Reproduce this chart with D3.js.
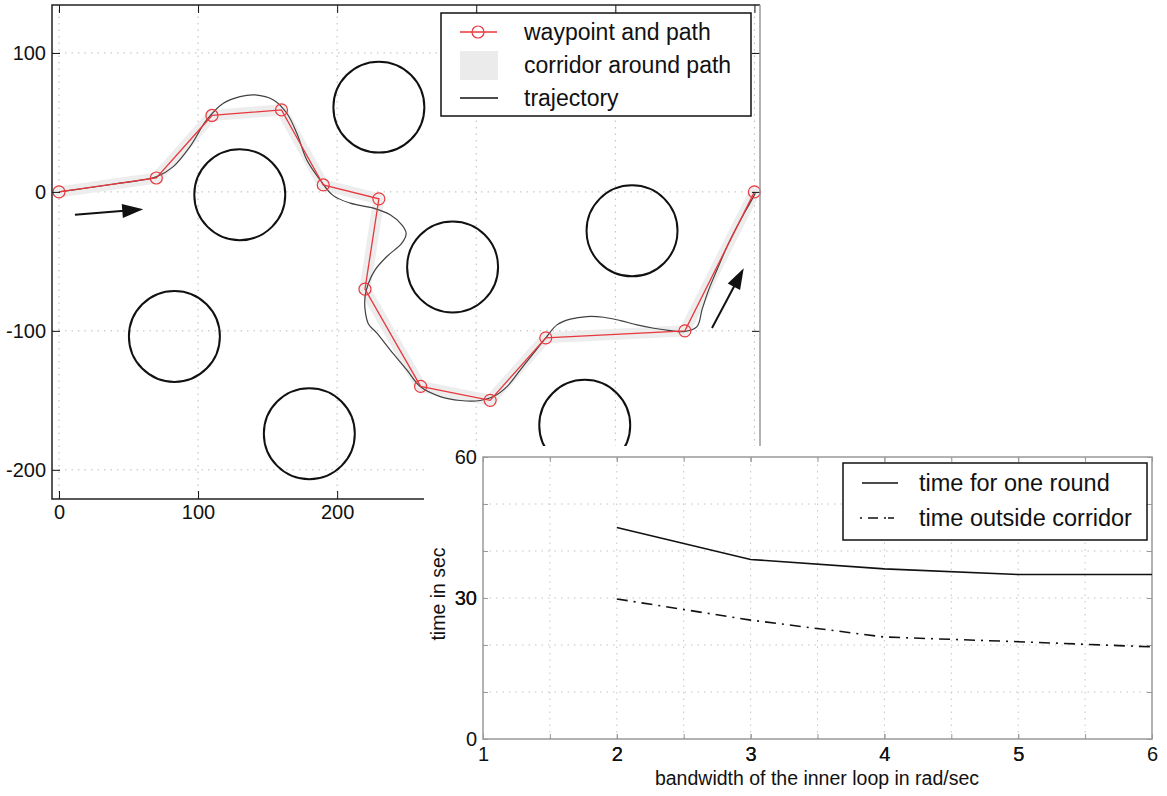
<!DOCTYPE html>
<html>
<head>
<meta charset="utf-8">
<script src="https://cdn.jsdelivr.net/npm/d3@7"></script>
<style>
  body { margin: 0; background: #fff; }
  svg { display: block; }
  text { font-family: "Liberation Sans", Arial, Helvetica, sans-serif; fill: #111; }
</style>
</head>
<body>
<svg id="chart" width="1167" height="796"></svg>
<script>
// ---- Map: planned waypoints (m) ----
const waypointX = [0, 70, 110, 160, 190, 230, 220, 260, 310, 350, 450, 500];
const waypointY = [0, 10, 55, 59, 5, -5, -70, -140, -150, -105, -100, 0];

// ---- Map: circular obstacles ----
const obstacleX = [130, 230, 83, 180, 283, 412, 378];
const obstacleY = [-2, 61, -104, -174, -54, -28, -168];
const obstacleR = [32.7, 32.7, 32.7, 32.7, 32.7, 32.7, 32.7];

// ---- Map: flown trajectory ----
const trajX = [0, 20, 40, 60, 70.3, 82.2, 94.2, 106.2, 118.2, 130.2, 141, 154.2, 163.8, 171, 178.2, 187.8,
  197, 209.4, 226.1, 238.1, 246.5, 249.6, 246.5, 235.7, 227.3, 222.5, 220.1, 220.1, 222.5, 228.6, 238.1,
  250.1, 259.7, 274.1, 288.5, 302.9, 312.4, 322.1, 331.7, 341.2, 350, 358, 367.6, 379.6, 391.6, 403.6,
  415.6, 427.6, 439.6, 449.2, 458.7, 462.3, 467.1, 473.1, 480.3, 487.5, 494.7, 500.7];
const trajY = [0, 2.8, 5.7, 8.6, 11, 18.2, 32.6, 51.8, 63.8, 68.6, 69.8, 66.2, 56.6, 42.2, 23, 8.6,
  -2.5, -8.1, -11.7, -16.5, -23.7, -29.7, -36.9, -46.5, -56.1, -65.7, -75.3, -84.9, -95, -101.7, -113.7,
  -128.1, -140.1, -147.3, -150.1, -150.1, -147.3, -140.1, -128.1, -116, -105, -95.7, -91.6, -89.7, -90.2, -92.6,
  -95.7, -98.1, -99.8, -100.5, -96.9, -84.9, -70.5, -56.1, -39.3, -24.9, -11.7, -1];

// ---- Map: direction arrows (start -> tip) ----
const arrowStartX = [11.5, 469.5];
const arrowStartY = [-16.5, -98];
const arrowTipX = [60.6, 492.3];
const arrowTipY = [-12.5, -54.9];

const mapTicksX = [0, 100, 200, 300, 400, 500];
const mapTicksY = [-200, -100, 0, 100];
const corridorHalfWidth = 4;

// ---- Timing study ----
const bandwidth = [2, 3, 4, 5, 6];
const roundTime = [45, 38.2, 36.2, 35, 35];
const outsideTime = [29.8, 25.3, 21.7, 20.7, 19.6];
const bandwidthTicks = [1, 2, 3, 4, 5, 6];
const bandwidthGrid = [1.5, 2, 2.5, 3, 3.5, 4, 4.5, 5, 5.5];
const timeTicks = [0, 30, 60];
const timeGrid = [10, 20, 30, 40, 50];

const svg = d3.select("#chart");
const fmt = d => String(d);   // plain hyphen-minus for negatives

// =========================== Map plot ===========================
const mx = d3.scaleLinear().domain([-5, 504]).range([52, 760]);
const my = d3.scaleLinear().domain([-221, 134.5]).range([499, 5]);
const mapG = svg.append("g");

// dotted grid
mapG.append("g").selectAll("line").data(mapTicksX).join("line")
  .attr("x1", d => mx(d)).attr("x2", d => mx(d)).attr("y1", my.range()[0]).attr("y2", my.range()[1])
  .attr("stroke", "#bbb").attr("stroke-width", 1).attr("stroke-dasharray", "1.5,5");
mapG.append("g").selectAll("line").data(mapTicksY).join("line")
  .attr("y1", d => my(d)).attr("y2", d => my(d)).attr("x1", mx.range()[0]).attr("x2", mx.range()[1])
  .attr("stroke", "#bbb").attr("stroke-width", 1).attr("stroke-dasharray", "1.5,5");

// obstacles
const pxPerUnit = mx(1) - mx(0);
mapG.append("g").selectAll("circle").data(obstacleX).join("circle")
  .attr("cx", (d, i) => mx(obstacleX[i])).attr("cy", (d, i) => my(obstacleY[i]))
  .attr("r", (d, i) => obstacleR[i] * pxPerUnit)
  .attr("fill", "none").attr("stroke", "#111").attr("stroke-width", 2);

const waypoints = waypointX.map((d, i) => [waypointX[i], waypointY[i]]);
const pathLine = d3.line().x(d => mx(d[0])).y(d => my(d[1]));

// corridor around path
mapG.append("path").datum(waypoints).attr("d", pathLine)
  .attr("fill", "none").attr("stroke", "#ededed")
  .attr("stroke-width", 2 * corridorHalfWidth * pxPerUnit)
  .attr("stroke-linejoin", "round").attr("stroke-linecap", "round");

// trajectory
const traj = trajX.map((d, i) => [trajX[i], trajY[i]]);
mapG.append("path").datum(traj)
  .attr("d", d3.line().x(d => mx(d[0])).y(d => my(d[1])).curve(d3.curveCatmullRom))
  .attr("fill", "none").attr("stroke", "#404040").attr("stroke-width", 1.2);

// path and waypoints
const red = "#e8383d";
mapG.append("path").datum(waypoints).attr("d", pathLine)
  .attr("fill", "none").attr("stroke", red).attr("stroke-width", 1.3);
mapG.append("g").selectAll("circle").data(waypoints).join("circle")
  .attr("cx", d => mx(d[0])).attr("cy", d => my(d[1])).attr("r", 6)
  .attr("fill", "none").attr("stroke", red).attr("stroke-width", 1.2);

// arrows
arrowTipX.forEach((d, i) => {
  const x0 = mx(arrowStartX[i]), y0 = my(arrowStartY[i]);
  const x1 = mx(arrowTipX[i]), y1 = my(arrowTipY[i]);
  const ang = Math.atan2(y1 - y0, x1 - x0);
  const hl = 21, hw = 7;
  const bx = x1 - hl * Math.cos(ang), by = y1 - hl * Math.sin(ang);
  mapG.append("line").attr("x1", x0).attr("y1", y0).attr("x2", bx + 2 * Math.cos(ang)).attr("y2", by + 2 * Math.sin(ang))
    .attr("stroke", "#111").attr("stroke-width", 2);
  const px = -Math.sin(ang), py = Math.cos(ang);
  mapG.append("path")
    .attr("d", `M${x1},${y1}L${bx + hw * px},${by + hw * py}L${bx - hw * px},${by - hw * py}Z`)
    .attr("fill", "#111");
});

// axes (inward ticks)
const ax = (g) => g.call(s => s.select(".domain").remove())
  .call(s => s.selectAll("text").attr("font-size", 20).style("font-family", "'Liberation Sans', Arial, sans-serif").attr("fill", "#111"))
  .call(s => s.selectAll("line").attr("stroke", "#111"));
mapG.append("g").attr("transform", `translate(${mx.range()[0]},0)`)
  .call(d3.axisLeft(my).tickValues(mapTicksY).tickFormat(fmt).tickSize(-8).tickPadding(6)).call(ax);
mapG.append("g").attr("transform", `translate(${mx.range()[1]},0)`)
  .call(d3.axisRight(my).tickValues(mapTicksY).tickFormat("").tickSize(-8)).call(ax);
mapG.append("g").attr("transform", `translate(0,${my.range()[0]})`)
  .call(d3.axisBottom(mx).tickValues(mapTicksX).tickFormat(fmt).tickSize(-8).tickPadding(6)).call(ax);
mapG.append("g").attr("transform", `translate(0,${my.range()[1]})`)
  .call(d3.axisTop(mx).tickValues(mapTicksX).tickFormat("").tickSize(-8)).call(ax);

// frame
const [fx0, fx1] = mx.range(), [fy0, fy1] = my.range();
mapG.append("path").attr("d", `M${fx1},${fy1}H${fx0}V${fy0}H${fx1}`)
  .attr("fill", "none").attr("stroke", "#222").attr("stroke-width", 1.5);
mapG.append("line").attr("x1", fx1).attr("x2", fx1).attr("y1", fy1).attr("y2", fy0)
  .attr("stroke", "#999").attr("stroke-width", 1.5);

// legend
const lg = mapG.append("g");
lg.append("rect").attr("x", 441).attr("y", 13).attr("width", 310).attr("height", 103)
  .attr("fill", "#fff").attr("stroke", "#111").attr("stroke-width", 1.5);
lg.append("line").attr("x1", 460).attr("x2", 497).attr("y1", 32).attr("y2", 32).attr("stroke", red).attr("stroke-width", 1.3);
lg.append("circle").attr("cx", 478).attr("cy", 32).attr("r", 6).attr("fill", "none").attr("stroke", red).attr("stroke-width", 1.2);
lg.append("rect").attr("x", 460).attr("y", 51).attr("width", 38).attr("height", 29).attr("fill", "#ebebeb");
lg.append("line").attr("x1", 460).attr("x2", 498).attr("y1", 98).attr("y2", 98).attr("stroke", "#111").attr("stroke-width", 1.5);
const legTexts = ["waypoint and path", "corridor around path", "trajectory"];
lg.selectAll("text.l").data(legTexts).join("text").attr("class", "l")
  .attr("x", 524).attr("y", (d, i) => 32 + i * 33).attr("dy", "0.35em")
  .attr("font-size", 23).text(d => d);

// =========================== Timing plot ===========================
svg.append("rect").attr("x", 424).attr("y", 446).attr("width", 1167 - 424).attr("height", 796 - 446).attr("fill", "#fff");

const bx = d3.scaleLinear().domain([1, 6]).range([483, 1152]);
const by = d3.scaleLinear().domain([0, 60]).range([739, 457]);
const tg = svg.append("g");

tg.append("g").selectAll("line").data(bandwidthGrid).join("line")
  .attr("x1", d => bx(d)).attr("x2", d => bx(d)).attr("y1", by.range()[0]).attr("y2", by.range()[1])
  .attr("stroke", "#c4c4c4").attr("stroke-width", 1).attr("stroke-dasharray", "1.5,5");
tg.append("g").selectAll("line").data(timeGrid).join("line")
  .attr("y1", d => by(d)).attr("y2", d => by(d)).attr("x1", bx.range()[0]).attr("x2", bx.range()[1])
  .attr("stroke", "#c4c4c4").attr("stroke-width", 1).attr("stroke-dasharray", "1.5,5");

const allY = timeGrid.concat(timeTicks), allX = bandwidthGrid.concat(bandwidthTicks);
const ax2 = (g) => g.call(s => s.select(".domain").remove())
  .call(s => s.selectAll("text").attr("font-size", 20).style("font-family", "'Liberation Sans', Arial, sans-serif").attr("fill", "#111"))
  .call(s => s.selectAll("line").attr("stroke", "#999"));
tg.append("g").attr("transform", `translate(${bx.range()[0]},0)`)
  .call(d3.axisLeft(by).tickValues(allY).tickFormat(d => timeTicks.includes(d) ? fmt(d) : "").tickSize(-5).tickPadding(6)).call(ax2);
tg.append("g").attr("transform", `translate(${bx.range()[1]},0)`)
  .call(d3.axisRight(by).tickValues(allY).tickFormat("").tickSize(-5)).call(ax2);
tg.append("g").attr("transform", `translate(0,${by.range()[0]})`)
  .call(d3.axisBottom(bx).tickValues(allX).tickFormat(d => bandwidthTicks.includes(d) ? fmt(d) : "").tickSize(-5).tickPadding(8)).call(ax2);
tg.append("g").attr("transform", `translate(0,${by.range()[1]})`)
  .call(d3.axisTop(bx).tickValues(allX).tickFormat("").tickSize(-5)).call(ax2);

tg.append("rect").attr("x", bx.range()[0]).attr("y", by.range()[1])
  .attr("width", bx.range()[1] - bx.range()[0]).attr("height", by.range()[0] - by.range()[1])
  .attr("fill", "none").attr("stroke", "#999").attr("stroke-width", 1.5);

const tLine = d3.line().x((d, i) => bx(bandwidth[i])).y(d => by(d));
tg.append("path").datum(roundTime).attr("d", tLine)
  .attr("fill", "none").attr("stroke", "#111").attr("stroke-width", 1.6);
tg.append("path").datum(outsideTime).attr("d", tLine)
  .attr("fill", "none").attr("stroke", "#111").attr("stroke-width", 1.6).attr("stroke-dasharray", "11,6,2,6");

// axis titles
tg.append("text").attr("x", 817).attr("y", 778).attr("dy", "0.35em")
  .attr("text-anchor", "middle").attr("font-size", 19.5).text("bandwidth of the inner loop in rad/sec");
tg.append("text").attr("transform", `translate(438,594) rotate(-90)`)
  .attr("dy", "0.35em").attr("text-anchor", "middle").attr("font-size", 19.5).text("time in sec");

// legend
const lg2 = tg.append("g");
lg2.append("rect").attr("x", 843).attr("y", 463).attr("width", 304).attr("height", 77)
  .attr("fill", "#fff").attr("stroke", "#111").attr("stroke-width", 1.5);
lg2.append("line").attr("x1", 862).attr("x2", 898).attr("y1", 483).attr("y2", 483).attr("stroke", "#111").attr("stroke-width", 1.6);
lg2.append("line").attr("x1", 860).attr("x2", 900).attr("y1", 518).attr("y2", 518).attr("stroke", "#111").attr("stroke-width", 1.6)
  .attr("stroke-dasharray", "2,6,10,6,2");
const leg2Texts = ["time for one round", "time outside corridor"];
lg2.selectAll("text.l").data(leg2Texts).join("text").attr("class", "l")
  .attr("x", 919).attr("y", (d, i) => 483 + i * 35).attr("dy", "0.35em")
  .attr("font-size", 23.5).text(d => d);
</script>
</body>
</html>
